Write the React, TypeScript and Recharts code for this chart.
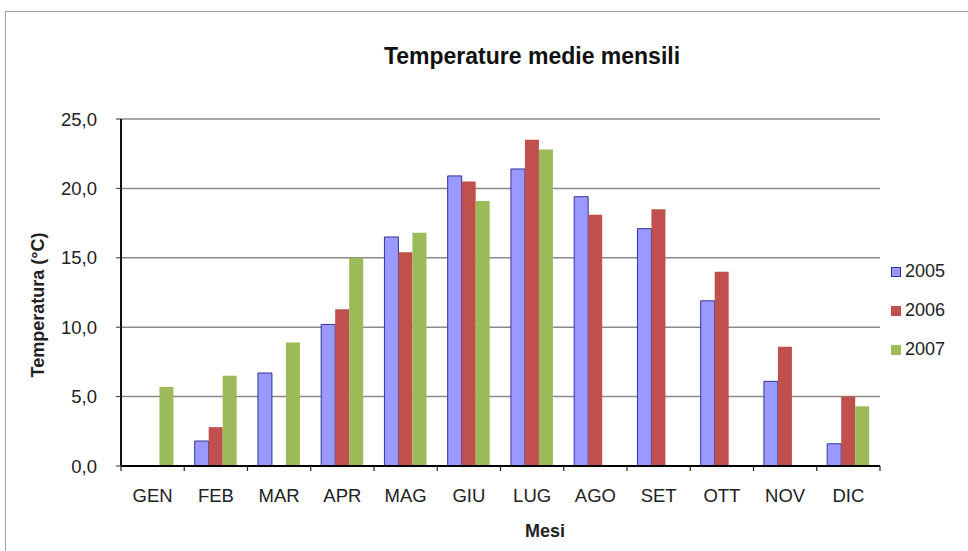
import { BarChart, Bar, XAxis, YAxis, CartesianGrid, Legend } from "recharts";

const mesi = ["GEN", "FEB", "MAR", "APR", "MAG", "GIU", "LUG", "AGO", "SET", "OTT", "NOV", "DIC"];
const t2005 = [null, 1.8, 6.7, 10.2, 16.5, 20.9, 21.4, 19.4, 17.1, 11.9, 6.1, 1.6];
const t2006 = [null, 2.8, null, 11.3, 15.4, 20.5, 23.5, 18.1, 18.5, 14.0, 8.6, 5.0];
const t2007 = [5.7, 6.5, 8.9, 15.0, 16.8, 19.1, 22.8, null, null, null, null, 4.3];
const yTicks = [0, 5, 10, 15, 20, 25];

const serie = [
  { key: "a2005", label: "2005", fill: "#9999FF", stroke: "#333399" },
  { key: "a2006", label: "2006", fill: "#C0504D", stroke: "none" },
  { key: "a2007", label: "2007", fill: "#9BBB59", stroke: "none" },
];

const data = mesi.map((m, i) => ({ mese: m, a2005: t2005[i], a2006: t2006[i], a2007: t2007[i] }));

const W = 968;
const H = 551;
const M = { top: 119, right: 88, left: 21, bottom: 25 };
const Y_W = 100;
const FONT = "'Liberation Sans', Arial, sans-serif";
const fmt = (v: number) => v.toFixed(1).replace(".", ",");

// mezza larghezza di una categoria: serve per le tacche sui confini fra mesi
const halfBand = (W - M.left - Y_W - M.right) / mesi.length / 2;

function TickMese(p: { x?: number; y?: number; index?: number; payload?: { value: string } }) {
  const x = p.x ?? 0;
  const y = p.y ?? 0;
  const last = p.index === mesi.length - 1;
  return (
    <g>
      <line x1={x - halfBand} x2={x - halfBand} y1={y} y2={y + 5} stroke="#222" strokeWidth={1.2} />
      {last && <line x1={x + halfBand} x2={x + halfBand} y1={y} y2={y + 5} stroke="#222" strokeWidth={1.2} />}
      <text x={x} y={y + 23} dy="0.71em" textAnchor="middle" fontSize={18.5} fill="#222" fontFamily={FONT}>
        {p.payload?.value}
      </text>
    </g>
  );
}

function Leggenda() {
  return (
    <div style={{ fontFamily: FONT, fontSize: 18, color: "#222" }}>
      {serie.map((s) => (
        <div key={s.key} style={{ display: "flex", alignItems: "center", height: 39 }}>
          <span
            style={{
              width: 10,
              height: 10,
              background: s.fill,
              border: s.stroke === "none" ? "none" : `1px solid ${s.stroke}`,
              boxSizing: "border-box",
              marginRight: 4,
            }}
          />
          {s.label}
        </div>
      ))}
    </div>
  );
}

export default function App() {
  return (
    <div
      style={{
        position: "fixed",
        left: 0,
        top: 0,
        width: W,
        height: H,
        overflow: "hidden",
        background: "#fff",
        fontFamily: FONT,
      }}
    >
      {/* cornice del grafico, esce dal bordo a destra e in basso */}
      <div
        style={{
          position: "absolute",
          left: 5,
          top: 11,
          width: 1000,
          height: 600,
          border: "1.5px solid #a0a0a0",
        }}
      />
      <div
        style={{
          position: "absolute",
          left: 0,
          width: 1064,
          top: 43,
          textAlign: "center",
          fontWeight: "bold",
          fontSize: 23,
          color: "#111",
        }}
      >
        Temperature medie mensili
      </div>
      <div
        style={{
          position: "absolute",
          left: 445,
          width: 200,
          top: 521,
          textAlign: "center",
          fontWeight: "bold",
          fontSize: 18,
          color: "#222",
        }}
      >
        Mesi
      </div>
      <div
        style={{
          position: "absolute",
          left: 38 - 100,
          top: 305 - 12,
          width: 200,
          height: 24,
          lineHeight: "24px",
          textAlign: "center",
          fontWeight: "bold",
          fontSize: 18,
          color: "#222",
          transform: "rotate(-90deg)",
        }}
      >
        Temperatura (°C)
      </div>
      <div style={{ position: "absolute", left: 0, top: 0 }}>
        <BarChart width={W} height={H} data={data} margin={M} barGap={0} barCategoryGap="16.5%">
          <CartesianGrid vertical={false} stroke="#8a8a8a" strokeWidth={1.5} />
          <XAxis
            dataKey="mese"
            height={60}
            axisLine={{ stroke: "#000", strokeWidth: 2 }}
            tickLine={false}
            tickSize={0}
            tickMargin={0}
            tick={<TickMese />}
            interval={0}
          />
          <YAxis
            width={Y_W}
            domain={[0, 25]}
            ticks={yTicks}
            tickFormatter={fmt}
            tickSize={5}
            tickMargin={19}
            axisLine={{ stroke: "#111", strokeWidth: 2 }}
            tickLine={{ stroke: "#333" }}
            tick={{ fontSize: 18.5, fill: "#222", fontFamily: FONT }}
          />
          {/* bordo destro dell'area del grafico */}
          <YAxis
            yAxisId="bordo"
            orientation="right"
            width={0}
            domain={[0, 25]}
            tick={false}
            tickLine={false}
            axisLine={{ stroke: "#8a8a8a", strokeWidth: 2 }}
          />
          {serie.map((s) => (
            <Bar
              key={s.key}
              dataKey={s.key}
              name={s.label}
              fill={s.fill}
              stroke={s.stroke}
              strokeWidth={1}
              isAnimationActive={false}
            />
          ))}
          <Legend
            layout="horizontal"
            verticalAlign="middle"
            align="center"
            content={() => <Leggenda />}
            wrapperStyle={{ left: 891, top: 252, width: 75 }}
          />
        </BarChart>
      </div>
    </div>
  );
}
